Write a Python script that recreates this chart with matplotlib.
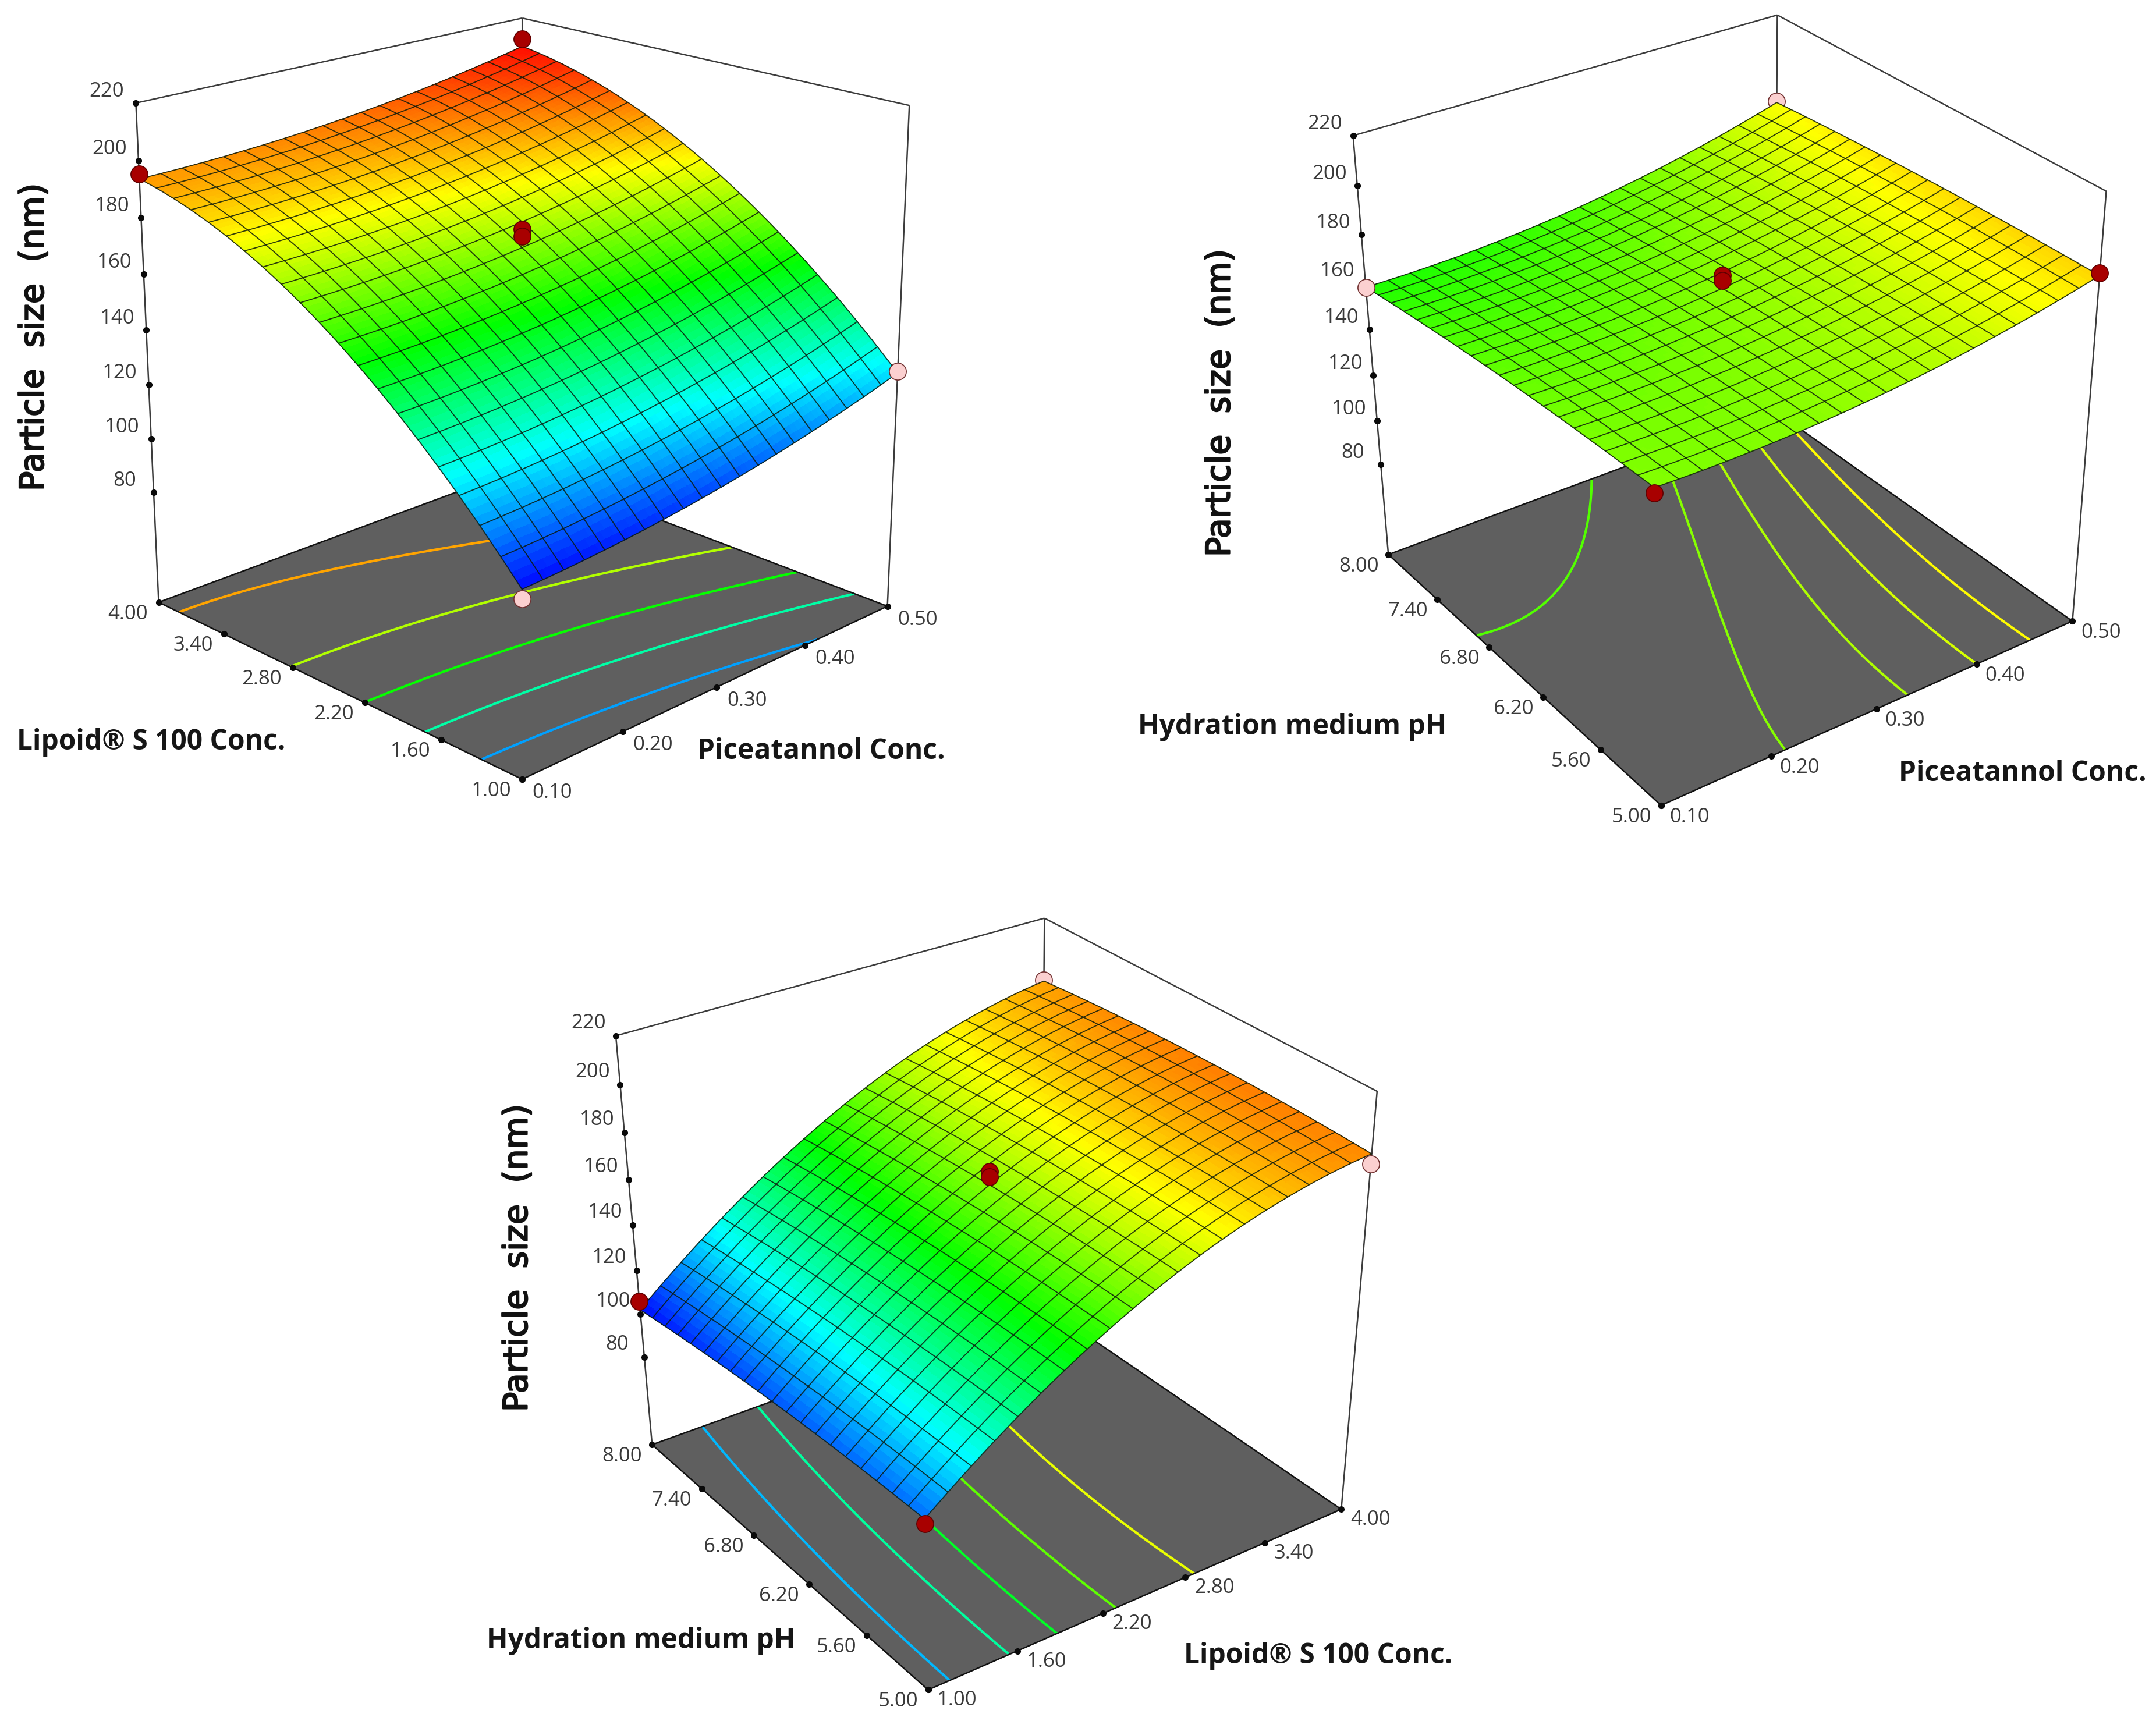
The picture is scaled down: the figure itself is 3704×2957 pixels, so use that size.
import numpy as np
import matplotlib
matplotlib.use("Agg")
import matplotlib.pyplot as plt
import matplotlib.patheffects as pe
from matplotlib.colors import LinearSegmentedColormap, Normalize
from mpl_toolkits.mplot3d import proj3d
from mpl_toolkits.mplot3d.art3d import Line3DCollection

W, H = 3704, 2957

# ---------- data ----------
lipid_ticks = [1.00, 1.60, 2.20, 2.80, 3.40, 4.00]
pic_ticks = [0.10, 0.20, 0.30, 0.40, 0.50]
ph_ticks = [5.00, 5.60, 6.20, 6.80, 7.40, 8.00]
z_ticks = [80, 100, 120, 140, 160, 180, 200, 220]
z_floor = 38

# heights at lipid ticks (rows) and piceatannol positions (columns)
grid_pic = [0.10, 0.18, 0.26, 0.34, 0.42, 0.50]
size_lipid_pic = [
    [102, 103.9, 107.2, 111.7, 117.4, 125.5],
    [131.6, 133.2, 136, 140.1, 145.5, 152.6],
    [155.5, 156.6, 159.1, 162.9, 168, 174.7],
    [173.6, 174.4, 176.6, 180, 184.9, 191.1],
    [185.9, 186.6, 188.5, 191.7, 196.2, 201.9],
    [194, 194.6, 196.6, 199.7, 203.9, 209.5],
]
# heights at pH ticks (rows) and piceatannol positions (columns)
size_ph_pic = [
    [169, 168.8, 170.4, 174, 179.6, 187],
    [168.1, 168, 169.9, 173.7, 179.4, 187.1],
    [166.5, 166.7, 168.8, 172.8, 178.7, 186.5],
    [164.3, 164.7, 167, 171.2, 177.5, 185.7],
    [161.5, 162, 164.5, 169.1, 175.6, 184.3],
    [158, 158.8, 161.4, 166.2, 173.2, 182.5],
]
# heights at pH ticks (rows) and lipid ticks (columns)
size_ph_lipid = [
    [113, 140.3, 162.1, 178.5, 189.5, 195],
    [112.4, 140, 162.1, 178.9, 190.2, 196.1],
    [111, 138.9, 161.4, 178.5, 190.2, 196.4],
    [108.8, 137.1, 159.8, 177.3, 189.3, 195.9],
    [105.8, 134.3, 157.4, 175.2, 187.6, 194.6],
    [102, 131, 154.5, 172.6, 185.3, 192.5],
]

levels_lipid_pic = [117.5, 137, 155.5, 174, 192]
levels_ph_pic = [163.7, 169.2, 173.5, 178, 182.6]
levels_ph_lipid = [120, 138, 151, 165, 180]

# design points (first factor, second factor, size)
red_lipid_pic = [(4, 0.1, 195.5), (4, 0.5, 212), (2.5, 0.3, 176.5), (2.5, 0.3, 174)]
pink_lipid_pic = [(1, 0.5, 126), (1, 0.1, 99)]
red_ph_pic = [(5, 0.5, 188), (5, 0.1, 167), (6.5, 0.3, 175), (6.5, 0.3, 173)]
pink_ph_pic = [(8, 0.1, 158)]
hidden_ph_pic = [(8, 0.5, 183)]
red_ph_lipid = [(8, 1, 106), (5, 1, 111), (6.5, 2.5, 175.5), (6.5, 2.5, 173.5)]
pink_ph_lipid = [(5, 4, 191)]
hidden_ph_lipid = [(8, 4, 193)]

title_z = "Particle  size  (nm)"
title_lipid = "Lipoid® S 100 Conc."
title_pic = "Piceatannol Conc."
title_ph = "Hydration medium pH"

# ---------- camera calibration: box corners measured in the reference (px) ----------
cam1 = dict(lt=(232, 181), bt=(898, 30), rt=(1563, 181), lf=(274, 1040),
            ff=(898, 1341), rf=(1523, 1040), bf=(898, 806), z80=(263, 835))
cam2 = dict(lt=(2325, 239), bt=(3052, 23), rt=(3620, 328), lf=(2384, 953),
            ff=(2856, 1388), rf=(3557, 1064), bf=(3052, 712), z80=(2371, 789))
cam3 = dict(lt=(1059, 1785), bt=(1792, 1575), rt=(2368, 1875), lf=(1120, 2484),
            ff=(1596, 2907), rf=(2301, 2590), bf=(1792, 2246), z80=(1105, 2322))

plt.rcParams["font.family"] = ["Open Sans", "DejaVu Sans"]
fig = plt.figure(figsize=(W / 100, H / 100), dpi=100, facecolor="white")

cmap = LinearSegmentedColormap.from_list(
    "de", ["#0000ff", "#00ffff", "#00ff00", "#ffff00", "#ff0000"])
norm = Normalize(100, 210)


def camera(c, xr, yr):
    zr = (z_floor, z_ticks[-1])
    wz = (80 - zr[0]) / (zr[1] - zr[0])
    pts = [((1, 0, 1), c["lt"]), ((1, 1, 1), c["bt"]), ((0, 1, 1), c["rt"]),
           ((1, 0, 0), c["lf"]), ((0, 0, 0), c["ff"]), ((0, 1, 0), c["rf"]),
           ((1, 1, 0), c["bf"]), ((1, 0, wz), c["z80"])]
    A = []
    for (u, v, w), (px, py) in pts:
        X, Y = px / 1000, (H - py) / 1000
        A.append([u, v, w, 1, 0, 0, 0, 0, -X * u, -X * v, -X * w, -X])
        A.append([0, 0, 0, 0, u, v, w, 1, -Y * u, -Y * v, -Y * w, -Y])
    h = np.linalg.svd(np.array(A))[2][-1].reshape(3, 4)
    h = h / h[2, 3]
    M = np.vstack([h[0] * 1000, h[1] * 1000, [0, 0, 1, 0], h[2]])
    N = np.array([[1 / (xr[1] - xr[0]), 0, 0, -xr[0] / (xr[1] - xr[0])],
                  [0, 1 / (yr[1] - yr[0]), 0, -yr[0] / (yr[1] - yr[0])],
                  [0, 0, 1 / (zr[1] - zr[0]), -zr[0] / (zr[1] - zr[0])],
                  [0, 0, 0, 1]])
    return M @ N


def dots(ax, pts, size, face, edge, z, lw=1.2):
    if not pts:
        return
    xs, ys, zs = zip(*pts)
    ax.scatter(xs, ys, zs, s=size ** 2, c=face, edgecolors=edge, linewidths=lw,
               depthshade=False, zorder=z)


def panel(cam, xt, yt, gx, gy, table, levels, red, pink, hidden, off):
    xr, yr = (xt[0], xt[-1]), (yt[0], yt[-1])
    ax = fig.add_axes([0, 0, 1, 1], projection="3d", computed_zorder=False)
    ax.set_axis_off()
    ax.patch.set_alpha(0)
    ax.set_proj_type("ortho")  # turns off the clip to the unit view volume
    M = camera(cam, xr, yr)
    ax.get_proj = lambda: M
    ax.apply_aspect = lambda position=None: None
    ax.viewLim.intervalx = (0, W)
    ax.viewLim.intervaly = (0, H)
    ax.M = M

    # smooth mesh through the values read at the grid positions
    gx, gy = np.asarray(gx, float), np.asarray(gy, float)
    sx = lambda v: 2 * (np.asarray(v) - xr[0]) / (xr[1] - xr[0]) - 1
    sy = lambda v: 2 * (np.asarray(v) - yr[0]) / (yr[1] - yr[0]) - 1
    GX, GY = np.meshgrid(gx, gy, indexing="ij")
    V = np.polynomial.polynomial.polyvander2d(sx(GX).ravel(), sy(GY).ravel(), [2, 2])
    coef = np.linalg.lstsq(V, np.asarray(table, float).ravel(), rcond=None)[0]
    fx, fy = np.linspace(*xr, 81), np.linspace(*yr, 81)
    FX, FY = np.meshgrid(fx, fy, indexing="ij")
    FZ = (np.polynomial.polynomial.polyvander2d(sx(FX).ravel(), sy(FY).ravel(), [2, 2]) @ coef).reshape(FX.shape)

    # floor
    ax.plot_surface(np.array([[xr[0], xr[0]], [xr[1], xr[1]]]),
                    np.array([[yr[0], yr[1]], [yr[0], yr[1]]]),
                    np.full((2, 2), z_floor), color="#5f5f5f", shade=False,
                    linewidth=0, zorder=1)
    ax.contour(FX, FY, FZ, levels=levels, zdir="z", offset=z_floor, cmap=cmap,
               norm=norm, linewidths=3.0, zorder=2)

    # box
    ztop = z_ticks[-1]
    zf = z_floor
    a, b, c, d = (xr[1], yr[0]), (xr[1], yr[1]), (xr[0], yr[1]), (xr[0], yr[0])
    box = [[(*a, ztop), (*b, ztop)], [(*b, ztop), (*c, ztop)],
           [(*a, zf), (*a, ztop)], [(*b, zf), (*b, ztop)], [(*c, zf), (*c, ztop)]]
    ax.add_collection3d(Line3DCollection(box, colors="#3c3c3c", linewidths=1.8, zorder=3))
    edges = [[(*a, zf), (*d, zf)], [(*d, zf), (*c, zf)],
             [(*a, zf), (*b, zf)], [(*b, zf), (*c, zf)]]
    ax.add_collection3d(Line3DCollection(edges, colors="#111111", linewidths=1.8, zorder=3))

    # ticks and labels
    lab = dict(textcoords="offset pixels", ha="center", va="center", fontsize=25,
               color="#3a3a3a", annotation_clip=False)
    tk = [(xr[1], yr[0], v) for v in z_ticks] + [(v, yr[0], zf) for v in xt] + \
         [(xr[0], v, zf) for v in yt]
    dots(ax, tk, 8, "#0a0a0a", "#0a0a0a", 3, lw=0)
    for v in z_ticks:
        X, Y, _ = proj3d.proj_transform(xr[1], yr[0], v, M)
        ax.annotate(f"{v}", (X, Y), xytext=off[2], **lab)
    for v in xt:
        X, Y, _ = proj3d.proj_transform(v, yr[0], zf, M)
        ax.annotate(f"{v:.2f}", (X, Y), xytext=off[0], **lab)
    for v in yt:
        X, Y, _ = proj3d.proj_transform(xr[0], v, zf, M)
        ax.annotate(f"{v:.2f}", (X, Y), xytext=off[1], **lab)

    dots(ax, hidden, 21, "#fbd0d0", "#703030", 4)

    # surface
    ax.plot_surface(FX, FY, FZ, facecolors=cmap(norm(FZ)), rstride=1, cstride=1,
                    shade=False, linewidth=0, antialiased=False, zorder=5)
    ax.plot_wireframe(FX, FY, FZ, rstride=4, cstride=4, color="#0c1a0c",
                      linewidth=1.3, alpha=0.85, zorder=6)

    dots(ax, pink, 21, "#fbd0d0", "#703030", 7)
    dots(ax, red, 21, "#a80000", "#600000", 7)


panel(cam1, lipid_ticks, pic_ticks, lipid_ticks, grid_pic, size_lipid_pic,
      levels_lipid_pic, red_lipid_pic, pink_lipid_pic, [],
      ((-53, -20), (52, -23), (-50, 20)))
panel(cam2, ph_ticks, pic_ticks, ph_ticks, grid_pic, size_ph_pic,
      levels_ph_pic, red_ph_pic, pink_ph_pic, hidden_ph_pic,
      ((-51, -20), (49, -20), (-48, 20)))
panel(cam3, ph_ticks, lipid_ticks, ph_ticks, lipid_ticks, size_ph_lipid,
      levels_ph_lipid, red_ph_lipid, pink_ph_lipid, hidden_ph_lipid,
      ((-52, -20), (50, -18), (-47, 22)))


def ftext(px, py, s, **kw):
    fig.text(px / W, 1 - py / H, s, ha="center", va="center", **kw)


zt = dict(rotation=90, fontsize=41, family="DejaVu Sans", color="#111111",
          path_effects=[pe.withStroke(linewidth=1.6, foreground="#111111")])
for px, py in ((59, 579), (2097, 692), (890, 2161)):
    ftext(px, py, title_z, **zt)

bt = dict(fontsize=34.5, fontweight="bold", color="#161616")
ftext(260, 1275, title_lipid, **bt)
ftext(1411, 1292, title_pic, **bt)
ftext(2220, 1250, title_ph, **bt)
ftext(3475, 1330, title_pic, **bt)
ftext(1101, 2820, title_ph, **bt)
ftext(2265, 2846, title_lipid, **bt)

fig.savefig("out.png", dpi=100, facecolor="white")
